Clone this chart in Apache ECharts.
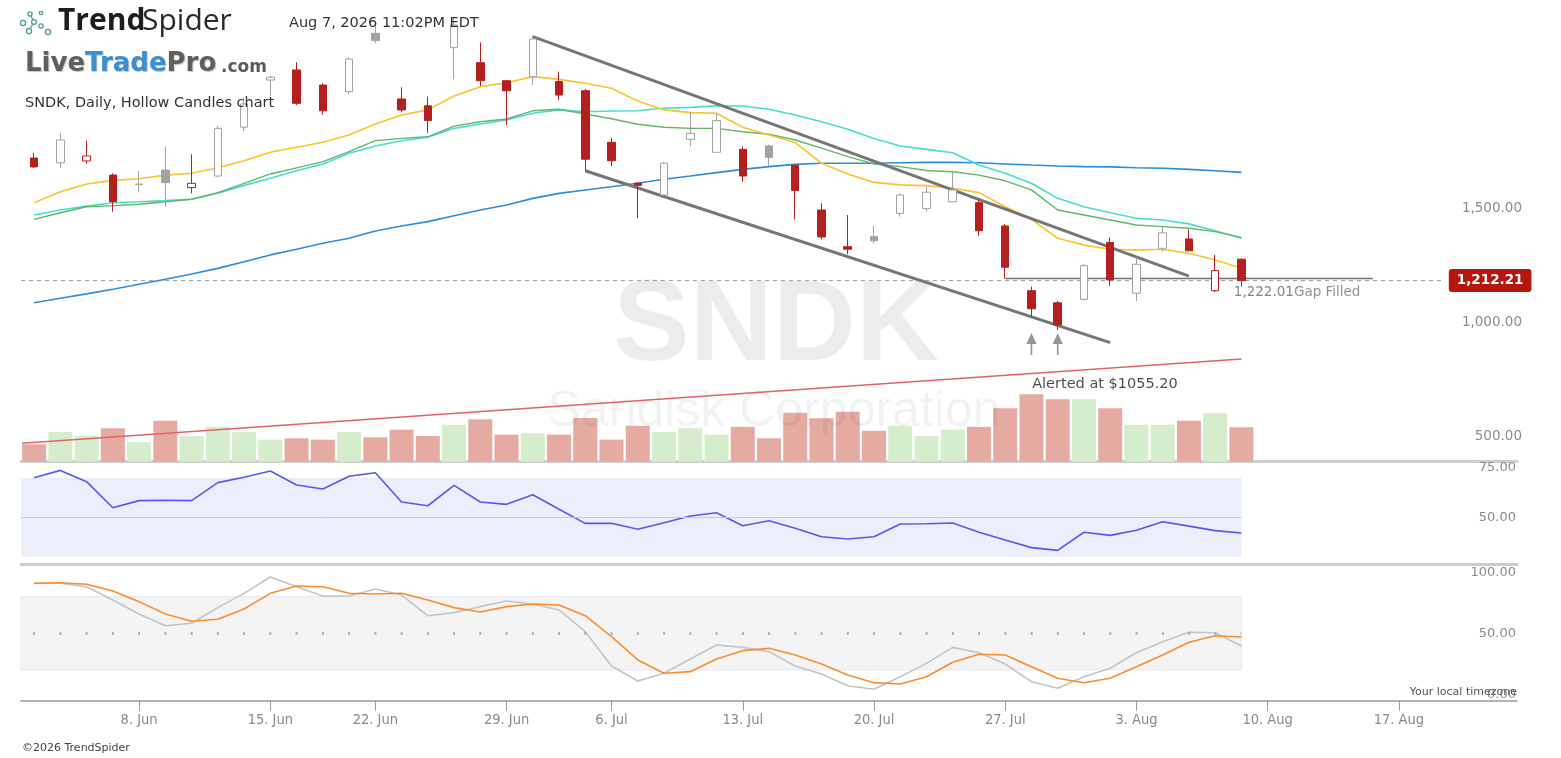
<!DOCTYPE html>
<html>
<head>
<meta charset="utf-8">
<title>SNDK, Daily, Hollow Candles chart</title>
<script src="https://cdn.jsdelivr.net/npm/echarts@6.0.0/dist/echarts.min.js"></script>
<style>
html, body { margin: 0; padding: 0; background: #fff; }
#main { width: 1561px; height: 758px; }
</style>
</head>
<body>
<div id="main"></div>
<script>
// trading days shown, plus two empty weeks on the right
var dates = [
	'2026-06-02','2026-06-03','2026-06-04','2026-06-05',
	'2026-06-08','2026-06-09','2026-06-10','2026-06-11','2026-06-12',
	'2026-06-15','2026-06-16','2026-06-17','2026-06-18',
	'2026-06-22','2026-06-23','2026-06-24','2026-06-25','2026-06-26',
	'2026-06-29','2026-06-30','2026-07-01','2026-07-02',
	'2026-07-06','2026-07-07','2026-07-08','2026-07-09','2026-07-10',
	'2026-07-13','2026-07-14','2026-07-15','2026-07-16','2026-07-17',
	'2026-07-20','2026-07-21','2026-07-22','2026-07-23','2026-07-24',
	'2026-07-27','2026-07-28','2026-07-29','2026-07-30','2026-07-31',
	'2026-08-03','2026-08-04','2026-08-05','2026-08-06','2026-08-07',
	'2026-08-10','2026-08-11','2026-08-12','2026-08-13','2026-08-14',
	'2026-08-17','2026-08-18','2026-08-19','2026-08-20','2026-08-21'
];
var tickDates  = ['2026-06-08','2026-06-15','2026-06-22','2026-06-29','2026-07-06','2026-07-13','2026-07-20','2026-07-27','2026-08-03','2026-08-10','2026-08-17'];
var tickLabels = ['8. Jun','15. Jun','22. Jun','29. Jun','6. Jul','13. Jul','20. Jul','27. Jul','3. Aug','10. Aug','17. Aug'];

var openP  = [1750,1729,1737,1675,1633,1697,1620,1671,1885,2092,2136,2070,2041,2297,2009,1979,2234,2168,2089,2107,2085,2045,1819,1640,1588,1832,1775,1788,1803,1718,1522,1361,1405,1507,1528,1558,1554,1452,1168,1115,1130,1379,1157,1354,1395,1168,1306];
var closeP = [1711,1829,1759,1558,1636,1642,1639,1880,1987,2104,1990,1957,2184,2265,1961,1914,2333,2089,2045,2272,2026,1745,1738,1630,1727,1858,1914,1671,1753,1608,1404,1350,1387,1588,1600,1610,1431,1271,1089,1018,1278,1215,1284,1422,1343,1256,1212.21];
var lowP   = [1706,1707,1724,1514,1602,1536,1595,1665,1868,2022,1982,1939,2029,2253,1950,1861,2095,2066,1895,2070,2004,1694,1715,1486,1583,1803,1775,1646,1716,1481,1393,1328,1376,1493,1514,1558,1408,1222.01,1055.2,996,1124,1189,1123,1339,1343,1161,1186];
var highP  = [1772,1858,1826,1683,1693,1800,1766,1890,2016,2110,2170,2078,2192,2333,2060,2019,2364,2257,2092,2286,2129,2053,1839,1642,1734,1953,1946,1800,1808,1724,1551,1500,1452,1595,1624,1694,1566,1461,1186,1123,1285,1402,1314,1449,1437,1325,1310];
var priorClose = 1760;

var volume = [4.35,7.4,6.4,8.35,4.9,10.2,6.4,8.7,7.4,5.5,5.85,5.5,7.4,6.1,8.0,6.4,9.25,10.6,6.75,7.1,6.75,10.9,5.5,9.0,7.4,8.35,6.75,8.7,5.85,12.2,10.85,12.5,7.7,9.0,6.4,8.0,8.7,13.35,16.85,15.6,15.6,13.35,9.25,9.25,10.25,12.1,8.6];

var maFast = [1554,1602,1636,1652,1659,1675,1683,1707,1738,1775,1797,1819,1851,1899,1939,1961,2022,2063,2080,2107,2095,2078,2056,2000,1961,1949,1946,1885,1851,1817,1727,1680,1643,1632,1629,1617,1598,1536,1481,1398,1368,1350,1346,1350,1332,1303,1266];
var maMid  = [1481,1510,1536,1541,1547,1558,1569,1598,1639,1680,1707,1734,1778,1826,1836,1843,1890,1909,1921,1957,1964,1943,1922,1898,1885,1880,1880,1865,1854,1829,1793,1756,1724,1712,1695,1690,1675,1650,1610,1522,1500,1478,1456,1449,1442,1427,1402];
var emaMid = [1500,1522,1539,1554,1558,1563,1569,1595,1630,1661,1694,1724,1771,1803,1826,1841,1880,1899,1917,1946,1961,1953,1956,1957,1968,1972,1979,1978,1964,1939,1909,1876,1836,1803,1788,1773,1719,1683,1639,1573,1536,1510,1486,1478,1461,1431,1398];
var maSlow = [1115,1135,1154,1174,1196,1218,1241,1266,1295,1325,1350,1376,1398,1430,1452,1471,1497,1522,1544,1573,1595,1610,1624,1639,1657,1671,1686,1700,1712,1722,1727,1727,1727,1729,1731,1731,1729,1724,1719,1715,1712,1711,1707,1705,1700,1694,1687];

var rsi = [70.0,73.7,68.0,54.8,58.4,58.6,58.4,67.5,70.2,73.4,66.3,64.3,70.7,72.5,57.7,55.8,66.1,57.7,56.5,61.4,54.0,46.9,46.9,43.9,47.2,50.6,52.3,45.7,48.2,44.4,40.1,39.0,40.1,46.6,46.7,47.1,42.4,38.5,34.6,33.2,42.4,40.8,43.4,47.7,45.5,43.2,42.0];
var stochK = [90.9,90.9,88.1,77.3,65.8,56.2,58.2,71.0,82.7,96.1,88.1,80.5,80.5,86.3,81.3,64.4,66.9,71.8,76.4,74.0,69.1,51.3,23.2,11.0,17.3,29.0,40.4,38.5,35.0,23.2,16.7,7.1,4.2,14.5,25.4,38.5,34.1,24.9,10.4,5.0,14.5,21.4,34.1,43.1,50.8,50.5,39.6];
var stochD = [90.9,91.4,90.1,84.6,75.9,65.8,59.8,61.5,69.9,82.7,88.7,88.1,82.7,82.2,82.7,77.3,71.0,67.4,71.8,74.0,73.2,64.4,47.2,28.2,17.3,18.6,29.0,35.8,37.7,32.2,24.9,15.9,9.6,8.5,14.5,26.3,32.8,32.2,22.7,13.2,9.6,13.2,22.7,32.2,42.6,48.0,47.0];

// drawn lines: [bar index, price]
var channelTop    = [[19, 2282], [44, 1232]];
var channelBottom = [[21, 1694], [41, 940]];
var supportLine   = [[-0.46, 499], [46, 868]];
var gapLine       = [[37, 1222.01], [51, 1222.01]];
var alertArrows   = [[38, 934], [39, 934]];
var alertNote     = [40.8, 759];
var gapNote       = [45.71, 1158];
var alertPrice    = 1055.20;
var lastPrice     = 1212.21;

var priceTicks = [500, 1000, 1500];
var rsiTicks   = [50, 75];
var stochTicks = [0, 50, 100];

var RED   = '#b3201e';
var GRAY  = '#a2a2a2';
var FONT  = 'DejaVu Sans';

var sndk = {
	init : function(){
		this.chart = echarts.init(document.getElementById('main'));
		this.chart.setOption(this.buildOption());
	},
	fmt : function(v){
		var s = v.toFixed(2).split('.');
		return s[0].replace(/\B(?=(\d{3})+(?!\d))/g, ',') + '.' + s[1];
	},
	pairs : function(arr){
		return arr.map(function(v, i){ return [i, v]; });
	},
	candles : function(){
		var out = [];
		for(var i = 0; i < openP.length; i++){
			var prev = i > 0 ? closeP[i-1] : priorClose;
			var col = closeP[i] >= prev ? GRAY : RED;
			var fill = closeP[i] > openP[i] ? '#ffffff' : col;
			out.push({
				value: [openP[i], closeP[i], lowP[i], highP[i]],
				itemStyle: { color: fill, color0: fill, borderColor: col, borderColor0: col }
			});
		}
		return out;
	},
	volumes : function(){
		return volume.map(function(v, i){
			return { value: v, itemStyle: { color: closeP[i] < openP[i] ? '#e5aba2' : '#d5edcc' } };
		});
	},
	lineSeries : function(name, data, color, width, xi, yi, z){
		return {
			name: name, type: 'line', xAxisIndex: xi, yAxisIndex: yi, data: data,
			showSymbol: false, symbol: 'none', silent: true, z: z || 3,
			lineStyle: { color: color, width: width }
		};
	},
	axisLabelOnly : function(list){
		var self = this;
		return function(v){
			for(var i = 0; i < list.length; i++){
				if(Math.abs(v - list[i]) < 1e-6) return self.fmt(v);
			}
			return '';
		};
	},
	buildOption : function(){
		var self = this;
		var showTick = function(idx, val){ return tickDates.indexOf(val) >= 0; };

		var rsiSeries = this.lineSeries('RSI', this.pairs(rsi), '#5757ee', 1.6, 4, 2, 4);
		rsiSeries.markArea = {
			silent: true,
			itemStyle: { color: '#eceefb' },
			data: [[{ coord: [-0.5, 30] }, { coord: [46, 70] }]]
		};
		rsiSeries.markLine = {
			silent: true, symbol: 'none', label: { show: false },
			lineStyle: { color: '#cbc4f0', width: 1, type: 'solid' },
			data: [[{ coord: [-0.5, 50] }, { coord: [46, 50] }]]
		};

		var kSeries = this.lineSeries('%K', this.pairs(stochK), '#c4c4c4', 1.6, 6, 3, 3);
		kSeries.markArea = {
			silent: true,
			itemStyle: { color: '#f4f4f4', borderColor: '#e6e6f3', borderWidth: 1 },
			data: [[{ coord: [-0.5, 20] }, { coord: [46, 80] }]]
		};
		kSeries.markLine = {
			silent: true, symbol: 'none', label: { show: false },
			lineStyle: { color: '#9d9de8', width: 2.5, type: [2, 24.25], dashOffset: 14.15 },
			data: [[{ coord: [-0.5, 50] }, { coord: [46, 50] }]]
		};

		var lastLine = this.lineSeries('last', [[-0.5, lastPrice], [53.75, lastPrice]], '#9a9a9a', 1, 1, 0, 2);
		lastLine.lineStyle.type = [4, 4];
		lastLine.endLabel = {
			show: true, distance: 4,
			formatter: function(){ return self.fmt(lastPrice); },
			backgroundColor: '#b5170c', borderRadius: 3, padding: [5, 8, 4, 8],
			color: '#fff', fontWeight: 'bold', fontSize: 13.5, fontFamily: FONT
		};

		return {
			animation: false,
			backgroundColor: '#ffffff',
			textStyle: { fontFamily: FONT },
			grid: [
				{ left: 21, right: 44, top: 0, height: 461.7 },
				{ left: 21, right: 44, top: 380, height: 81.7 },
				{ left: 21, right: 44, top: 465, height: 101.6 },
				{ left: 21, right: 44, top: 567, height: 127.4 }
			],
			xAxis: [
				{ type: 'category', gridIndex: 0, data: dates, boundaryGap: true,
				  axisLine: { onZero: false, lineStyle: { color: '#cdcdcd', width: 3 } },
				  axisTick: { show: false }, axisLabel: { show: false }, splitLine: { show: false } },
				{ type: 'value', gridIndex: 0, min: -0.5, max: 56.5, show: false },
				{ type: 'category', gridIndex: 1, data: dates, boundaryGap: true, show: false,
				  axisLine: { onZero: false } },
				{ type: 'category', gridIndex: 2, data: dates, boundaryGap: true, offset: -2.3,
				  axisLine: { onZero: false, lineStyle: { color: '#cdcdcd', width: 3 } },
				  axisTick: { show: false }, axisLabel: { show: false }, splitLine: { show: false } },
				{ type: 'value', gridIndex: 2, min: -0.5, max: 56.5, show: false },
				{ type: 'category', gridIndex: 3, data: dates, boundaryGap: true, offset: 6.3,
				  axisLine: { onZero: false, lineStyle: { color: '#9c9c9c', width: 1.5 } },
				  axisTick: { show: true, alignWithLabel: true, length: 10, interval: showTick,
				              lineStyle: { color: '#9c9c9c', width: 1 } },
				  axisLabel: {
					interval: showTick, margin: 12, color: '#8a8a8a', fontSize: 14.5,
					fontFamily: "'DejaVu Sans Condensed', 'DejaVu Sans'",
					formatter: function(v){ return tickLabels[tickDates.indexOf(v)] || ''; }
				  },
				  splitLine: { show: false } },
				{ type: 'value', gridIndex: 3, min: -0.5, max: 56.5, show: false }
			],
			yAxis: [
				{ type: 'value', gridIndex: 0, position: 'right', min: 418, max: 2443, scale: true,
				  axisLine: { show: false }, axisTick: { show: false }, splitLine: { show: false },
				  axisLabel: { inside: true, margin: -5, verticalAlign: 'bottom', color: '#8c8c8c', fontSize: 13.5,
				               showMinLabel: false, showMaxLabel: false, formatter: this.axisLabelOnly(priceTicks) } },
				{ type: 'value', gridIndex: 1, min: 0, max: 20.4, show: false },
				{ type: 'value', gridIndex: 2, position: 'right', min: 25, max: 76.43, interval: 25,
				  axisLine: { show: false }, axisTick: { show: false }, splitLine: { show: false },
				  axisLabel: { inside: true, margin: 1, color: '#8c8c8c', fontSize: 13,
				               formatter: this.axisLabelOnly(rsiTicks) } },
				{ type: 'value', gridIndex: 3, position: 'right', min: 0, max: 104.25, interval: 50,
				  axisLine: { show: false }, axisTick: { show: false }, splitLine: { show: false },
				  axisLabel: { inside: true, margin: 1, color: '#8c8c8c', fontSize: 13,
				               formatter: this.axisLabelOnly(stochTicks) } }
			],
			series: [
				{ name: 'Volume', type: 'bar', xAxisIndex: 2, yAxisIndex: 1, data: this.volumes(),
				  barWidth: 24, silent: true, z: 1 },
				this.lineSeries('MA slow', this.pairs(maSlow), '#2a8de0', 1.6, 1, 0),
				this.lineSeries('EMA', this.pairs(emaMid), '#45ded3', 1.6, 1, 0),
				this.lineSeries('MA mid', this.pairs(maMid), '#64b566', 1.4, 1, 0),
				this.lineSeries('MA fast', this.pairs(maFast), '#fcc32a', 1.6, 1, 0),
				this.lineSeries('Support', supportLine, '#e06464', 1.5, 1, 0),
				this.lineSeries('Channel top', channelTop, '#767676', 3, 1, 0, 4),
				this.lineSeries('Channel bottom', channelBottom, '#767676', 3, 1, 0, 4),
				this.lineSeries('Gap', gapLine, '#727272', 1.5, 1, 0, 4),
				lastLine,
				{ name: 'SNDK', type: 'candlestick', xAxisIndex: 0, yAxisIndex: 0, data: this.candles(),
				  barWidth: 8, silent: true, z: 5, itemStyle: { borderWidth: 1 } },
				{ name: 'Alerts', type: 'scatter', xAxisIndex: 1, yAxisIndex: 0, data: alertArrows, silent: true, z: 6,
				  symbol: 'path://M5 0 L10 11 L5.8 11 L5.8 22 L4.2 22 L4.2 11 L0 11 Z', symbolSize: [10, 22],
				  itemStyle: { color: '#7a7a7a' } },
				{ name: 'Notes', type: 'scatter', xAxisIndex: 1, yAxisIndex: 0, silent: true, z: 6,
				  symbolSize: 1, itemStyle: { color: 'rgba(0,0,0,0)' },
				  data: [
					{ value: alertNote, label: { show: true, position: 'inside', color: '#222', fontSize: 14.5,
					  formatter: 'Alerted at $' + alertPrice.toFixed(2) } },
					{ value: gapNote, label: { show: true, position: 'inside', align: 'left',
					  formatter: '{a|' + this.fmt(gapLine[0][1]) + '}{b|Gap Filled}',
					  rich: { a: { color: '#666', fontSize: 13.5 }, b: { color: '#777', fontSize: 13.5 } } } }
				  ] },
				rsiSeries,
				kSeries,
				this.lineSeries('%D', this.pairs(stochD), '#fb8d2e', 1.6, 6, 3, 4)
			],
			graphic: this.decor()
		};
	},
	decor : function(){
		var teal = '#4a9e97';
		var dots = [[23, 23, 2.6], [30, 14, 2.1], [34, 22, 2.4], [29, 31, 2.6], [41, 13, 1.7], [41, 26, 2.1], [48, 32, 2.6]];
		var g = [];
		g.push({ type: 'polyline', shape: { points: [[30, 14], [34, 22], [29, 31]] }, style: { stroke: teal, lineWidth: 1.2, fill: null }, z: 10 });
		dots.forEach(function(d){
			g.push({ type: 'circle', shape: { cx: d[0], cy: d[1], r: d[2] }, style: { stroke: teal, lineWidth: 1.3, fill: '#fff' }, z: 11 });
		});
		var txt = function(x, y, text, font, fill, align, z){
			return { type: 'text', x: x, y: y, z: z || 10, silent: true,
				style: { text: text, font: font, fill: fill, textAlign: align || 'left', align: align || 'left',
				         textVerticalAlign: 'middle', verticalAlign: 'middle' } };
		};
		g.push(txt(776, 328, 'SNDK', "bold 115px 'Liberation Sans'", 'rgba(0,0,0,0.075)', 'center', 1.5));
		g.push(txt(774, 412, 'Sandisk Corporation', "50px 'Liberation Sans'", 'rgba(0,0,0,0.05)', 'center', 1.5));
		g.push(txt(58, 21, 'Trend', "bold 30px 'Open Sans'", '#1d1d1d'));
		g.push(txt(142, 21, 'Spider', "30px 'Open Sans'", '#2a2a2a'));
		g.push(txt(289, 23, 'Aug 7, 2026 11:02PM EDT', "14.5px 'DejaVu Sans'", '#333'));
		var logo = txt(25, 64, '', '', '#5e5e5e');
		logo.style = { text: '{a|Live}{b|Trade}{a|Pro}', x: 0, y: 0, textVerticalAlign: 'middle', verticalAlign: 'middle',
			textShadowColor: 'rgba(0,0,0,0.25)', textShadowBlur: 1, textShadowOffsetX: 1, textShadowOffsetY: 1,
			rich: {
				a: { fill: '#5f5f5f', color: '#5f5f5f', font: "bold 26px 'DejaVu Sans'", fontSize: 26, fontWeight: 'bold', fontFamily: FONT },
				b: { fill: '#3a8fd0', color: '#3a8fd0', font: "bold 26px 'DejaVu Sans'", fontSize: 26, fontWeight: 'bold', fontFamily: FONT }
			} };
		g.push(logo);
		g.push(txt(221, 68, '.com', "bold 17px 'DejaVu Sans'", '#5a5a5a'));
		g.push(txt(25, 103, 'SNDK, Daily, Hollow Candles chart', "14.5px 'DejaVu Sans'", '#333'));
		g.push(txt(1517, 692, 'Your local timezone', "11px 'DejaVu Sans'", '#555', 'right', 12));
		g.push(txt(22, 748, '\u00a92026 TrendSpider', "11px 'DejaVu Sans'", '#444'));
		return g;
	}
};

sndk.init();
</script>
</body>
</html>
